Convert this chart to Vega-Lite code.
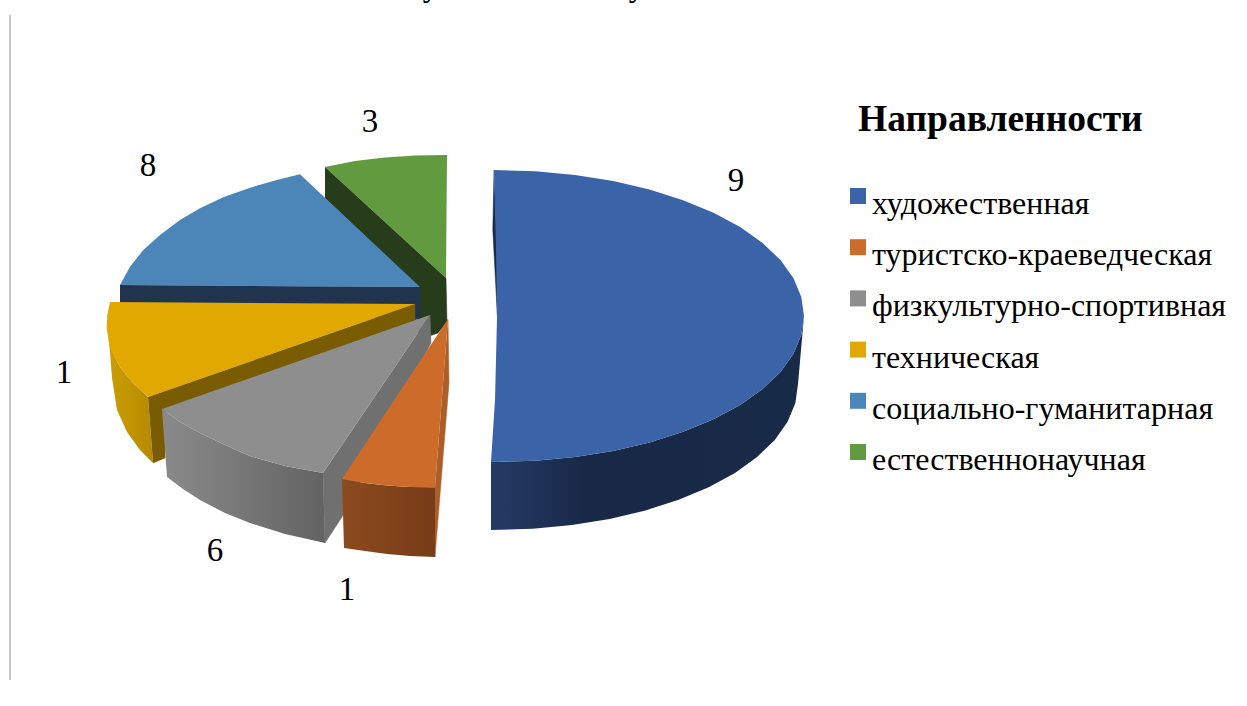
{"$schema":"https://vega.github.io/schema/vega-lite/v6.json","width":1247,"height":706,"padding":0,"autosize":{"type":"none"},"background":"white","config":{"view":{"stroke":null}},
"datasets":{"faces":[
{"face":"greenInner","seq":1,"x":325,"y":167},{"face":"greenInner","seq":2,"x":446,"y":278},{"face":"greenInner","seq":3,"x":447,"y":322},{"face":"greenInner","seq":4,"x":438,"y":333},{"face":"greenInner","seq":5,"x":418,"y":340},{"face":"greenInner","seq":6,"x":418,"y":287},{"face":"greenInner","seq":7,"x":325,"y":198},
{"face":"steelInner","seq":1,"x":120,"y":285},{"face":"steelInner","seq":2,"x":420,"y":287},{"face":"steelInner","seq":3,"x":420,"y":318},{"face":"steelInner","seq":4,"x":415,"y":320},{"face":"steelInner","seq":5,"x":120,"y":305},
{"face":"yellowOuter","seq":1,"x":107,"y":327},{"face":"yellowOuter","seq":2,"x":110,"y":347},{"face":"yellowOuter","seq":3,"x":120,"y":367},{"face":"yellowOuter","seq":4,"x":133,"y":383},{"face":"yellowOuter","seq":5,"x":148,"y":397},{"face":"yellowOuter","seq":6,"x":153,"y":463},{"face":"yellowOuter","seq":7,"x":140,"y":450},{"face":"yellowOuter","seq":8,"x":127,"y":432},{"face":"yellowOuter","seq":9,"x":117,"y":410},{"face":"yellowOuter","seq":10,"x":112,"y":378},{"face":"yellowOuter","seq":11,"x":110,"y":352},
{"face":"yellowInner","seq":1,"x":148,"y":397},{"face":"yellowInner","seq":2,"x":415,"y":304},{"face":"yellowInner","seq":3,"x":415,"y":323},{"face":"yellowInner","seq":4,"x":165,"y":412},{"face":"yellowInner","seq":5,"x":165,"y":458},{"face":"yellowInner","seq":6,"x":153,"y":463},
{"face":"grayInner","seq":1,"x":430,"y":315},{"face":"grayInner","seq":2,"x":431,"y":343},{"face":"grayInner","seq":3,"x":342,"y":517},{"face":"grayInner","seq":4,"x":325,"y":543},{"face":"grayInner","seq":5,"x":323,"y":473},
{"face":"grayOuter","seq":1,"x":162,"y":409},{"face":"grayOuter","seq":2,"x":180,"y":422},{"face":"grayOuter","seq":3,"x":200,"y":433},{"face":"grayOuter","seq":4,"x":225,"y":445},{"face":"grayOuter","seq":5,"x":250,"y":456},{"face":"grayOuter","seq":6,"x":285,"y":466},{"face":"grayOuter","seq":7,"x":323,"y":473},{"face":"grayOuter","seq":8,"x":325,"y":543},{"face":"grayOuter","seq":9,"x":285,"y":534},{"face":"grayOuter","seq":10,"x":250,"y":523},{"face":"grayOuter","seq":11,"x":225,"y":513},{"face":"grayOuter","seq":12,"x":200,"y":500},{"face":"grayOuter","seq":13,"x":183,"y":489},{"face":"grayOuter","seq":14,"x":167,"y":477},
{"face":"orangeInner","seq":1,"x":448,"y":319},{"face":"orangeInner","seq":2,"x":449,"y":383},{"face":"orangeInner","seq":3,"x":435,"y":557},{"face":"orangeInner","seq":4,"x":435,"y":487},
{"face":"orangeOuter","seq":1,"x":342,"y":479},{"face":"orangeOuter","seq":2,"x":365,"y":483},{"face":"orangeOuter","seq":3,"x":387,"y":485.5},{"face":"orangeOuter","seq":4,"x":410,"y":487},{"face":"orangeOuter","seq":5,"x":435,"y":487.3},{"face":"orangeOuter","seq":6,"x":435,"y":557},{"face":"orangeOuter","seq":7,"x":410,"y":556},{"face":"orangeOuter","seq":8,"x":387,"y":554},{"face":"orangeOuter","seq":9,"x":365,"y":551},{"face":"orangeOuter","seq":10,"x":344,"y":548},
{"face":"blueInner","seq":1,"x":494,"y":170},{"face":"blueInner","seq":2,"x":492.8,"y":230},{"face":"blueInner","seq":3,"x":497.5,"y":318},{"face":"blueInner","seq":4,"x":497,"y":250},
{"face":"blueOuter","seq":1,"x":804,"y":316},{"face":"blueOuter","seq":2,"x":801.3,"y":335.1},{"face":"blueOuter","seq":3,"x":793.5,"y":353.8},{"face":"blueOuter","seq":4,"x":780.5,"y":371.9},{"face":"blueOuter","seq":5,"x":762.6,"y":389},{"face":"blueOuter","seq":6,"x":740.2,"y":404.9},{"face":"blueOuter","seq":7,"x":713.5,"y":419.2},{"face":"blueOuter","seq":8,"x":683.1,"y":431.8},{"face":"blueOuter","seq":9,"x":649.5,"y":442.4},{"face":"blueOuter","seq":10,"x":613.3,"y":450.9},{"face":"blueOuter","seq":11,"x":575,"y":457.1},{"face":"blueOuter","seq":12,"x":535.3,"y":460.7},{"face":"blueOuter","seq":13,"x":491,"y":462},{"face":"blueOuter","seq":14,"x":491,"y":530},{"face":"blueOuter","seq":15,"x":532.8,"y":528.7},{"face":"blueOuter","seq":16,"x":572,"y":525},{"face":"blueOuter","seq":17,"x":609.7,"y":518.9},{"face":"blueOuter","seq":18,"x":645.5,"y":510.4},{"face":"blueOuter","seq":19,"x":678.7,"y":499.8},{"face":"blueOuter","seq":20,"x":708.7,"y":487.2},{"face":"blueOuter","seq":21,"x":735,"y":472.9},{"face":"blueOuter","seq":22,"x":757.1,"y":457},{"face":"blueOuter","seq":23,"x":774.8,"y":439.9},{"face":"blueOuter","seq":24,"x":787.6,"y":421.8},{"face":"blueOuter","seq":25,"x":795.4,"y":403.1},{"face":"blueOuter","seq":26,"x":798,"y":384}
],
"tops":[
{"cat":"художественная","seq":1,"x":494,"y":170},{"cat":"художественная","seq":2,"x":535.3,"y":171.3},{"cat":"художественная","seq":3,"x":575,"y":174.9},{"cat":"художественная","seq":4,"x":613.3,"y":181.1},{"cat":"художественная","seq":5,"x":649.5,"y":189.6},{"cat":"художественная","seq":6,"x":683.1,"y":200.2},{"cat":"художественная","seq":7,"x":713.5,"y":212.8},{"cat":"художественная","seq":8,"x":740.2,"y":227.1},{"cat":"художественная","seq":9,"x":762.6,"y":243},{"cat":"художественная","seq":10,"x":780.5,"y":260.1},{"cat":"художественная","seq":11,"x":793.5,"y":278.2},{"cat":"художественная","seq":12,"x":801.3,"y":296.9},{"cat":"художественная","seq":13,"x":804,"y":316},{"cat":"художественная","seq":14,"x":801.3,"y":335.1},{"cat":"художественная","seq":15,"x":793.5,"y":353.8},{"cat":"художественная","seq":16,"x":780.5,"y":371.9},{"cat":"художественная","seq":17,"x":762.6,"y":389},{"cat":"художественная","seq":18,"x":740.2,"y":404.9},{"cat":"художественная","seq":19,"x":713.5,"y":419.2},{"cat":"художественная","seq":20,"x":683.1,"y":431.8},{"cat":"художественная","seq":21,"x":649.5,"y":442.4},{"cat":"художественная","seq":22,"x":613.3,"y":450.9},{"cat":"художественная","seq":23,"x":575,"y":457.1},{"cat":"художественная","seq":24,"x":535.3,"y":460.7},{"cat":"художественная","seq":25,"x":491,"y":462},{"cat":"художественная","seq":26,"x":495,"y":400},{"cat":"художественная","seq":27,"x":497,"y":318},{"cat":"художественная","seq":28,"x":496,"y":250},
{"cat":"туристско-краеведческая","seq":1,"x":342,"y":479},{"cat":"туристско-краеведческая","seq":2,"x":365,"y":483},{"cat":"туристско-краеведческая","seq":3,"x":387,"y":485.5},{"cat":"туристско-краеведческая","seq":4,"x":410,"y":487},{"cat":"туристско-краеведческая","seq":5,"x":435,"y":487.3},{"cat":"туристско-краеведческая","seq":6,"x":448,"y":319},
{"cat":"физкультурно-спортивная","seq":1,"x":162,"y":409},{"cat":"физкультурно-спортивная","seq":2,"x":180,"y":422},{"cat":"физкультурно-спортивная","seq":3,"x":200,"y":433},{"cat":"физкультурно-спортивная","seq":4,"x":225,"y":445},{"cat":"физкультурно-спортивная","seq":5,"x":250,"y":456},{"cat":"физкультурно-спортивная","seq":6,"x":285,"y":466},{"cat":"физкультурно-спортивная","seq":7,"x":323,"y":473},{"cat":"физкультурно-спортивная","seq":8,"x":430,"y":315},
{"cat":"техническая","seq":1,"x":110,"y":302},{"cat":"техническая","seq":2,"x":107.3,"y":315},{"cat":"техническая","seq":3,"x":106.7,"y":328},{"cat":"техническая","seq":4,"x":110,"y":348},{"cat":"техническая","seq":5,"x":120,"y":367},{"cat":"техническая","seq":6,"x":133,"y":383},{"cat":"техническая","seq":7,"x":148,"y":397},{"cat":"техническая","seq":8,"x":415,"y":304},
{"cat":"социально-гуманитарная","seq":1,"x":300,"y":174.3},{"cat":"социально-гуманитарная","seq":2,"x":276.7,"y":180},{"cat":"социально-гуманитарная","seq":3,"x":250,"y":187.7},{"cat":"социально-гуманитарная","seq":4,"x":223.3,"y":197.3},{"cat":"социально-гуманитарная","seq":5,"x":200,"y":208.3},{"cat":"социально-гуманитарная","seq":6,"x":180,"y":220},{"cat":"социально-гуманитарная","seq":7,"x":160,"y":235},{"cat":"социально-гуманитарная","seq":8,"x":143.3,"y":250},{"cat":"социально-гуманитарная","seq":9,"x":130,"y":266.7},{"cat":"социально-гуманитарная","seq":10,"x":120,"y":285},{"cat":"социально-гуманитарная","seq":11,"x":420,"y":287},
{"cat":"естественнонаучная","seq":1,"x":325,"y":167},{"cat":"естественнонаучная","seq":2,"x":355,"y":161},{"cat":"естественнонаучная","seq":3,"x":385,"y":157.5},{"cat":"естественнонаучная","seq":4,"x":415,"y":155.5},{"cat":"естественнонаучная","seq":5,"x":447,"y":155},{"cat":"естественнонаучная","seq":6,"x":446,"y":278}
],
"labels":[{"t":"9","x":736,"y":191},{"t":"3","x":370,"y":132},{"t":"8","x":148,"y":176},{"t":"1","x":64,"y":383},{"t":"6","x":215,"y":561},{"t":"1","x":347,"y":600},{"t":"у","x":431,"y":-4},{"t":"у","x":637,"y":-4}],
"frame":[{"x":10,"y":15},{"x":10,"y":680}]},
"encoding":{"x":{"field":"x","type":"quantitative","scale":{"domain":[0,1247],"nice":false,"zero":false},"axis":null},"y":{"field":"y","type":"quantitative","scale":{"domain":[706,0],"nice":false,"zero":false},"axis":null}},
"layer":[
{"data":{"name":"frame"},"mark":{"type":"line","stroke":"#b4b4b4","strokeWidth":1.5,"clip":false},"encoding":{"x":{"field":"x","type":"quantitative"},"y":{"field":"y","type":"quantitative"}}},
{"data":{"name":"faces"},"transform":[{"filter":"datum.face=='greenInner'"}],"mark":{"type":"line","fill":"#263c1a","stroke":"#263c1a","strokeWidth":0.5},"encoding":{"order":{"field":"seq","type":"quantitative"}}},
{"data":{"name":"faces"},"transform":[{"filter":"datum.face=='steelInner'"}],"mark":{"type":"line","fill":"#20354d","stroke":"#20354d","strokeWidth":0.5},"encoding":{"order":{"field":"seq","type":"quantitative"}}},
{"data":{"name":"faces"},"transform":[{"filter":"datum.face=='yellowOuter'"}],"mark":{"type":"line","stroke":null,"fill":{"gradient":"linear","x1":0,"x2":1,"y1":0,"y2":0,"stops":[{"offset":0,"color":"#cc9e05"},{"offset":1,"color":"#b58a00"}]}},"encoding":{"order":{"field":"seq","type":"quantitative"}}},
{"data":{"name":"faces"},"transform":[{"filter":"datum.face=='yellowInner'"}],"mark":{"type":"line","fill":"#7a5c00","stroke":"#7a5c00","strokeWidth":0.5},"encoding":{"order":{"field":"seq","type":"quantitative"}}},
{"data":{"name":"faces"},"transform":[{"filter":"datum.face=='grayInner'"}],"mark":{"type":"line","fill":"#707070","stroke":"#707070","strokeWidth":0.5},"encoding":{"order":{"field":"seq","type":"quantitative"}}},
{"data":{"name":"faces"},"transform":[{"filter":"datum.face=='grayOuter'"}],"mark":{"type":"line","stroke":null,"fill":{"gradient":"linear","x1":0,"x2":1,"y1":0,"y2":0,"stops":[{"offset":0,"color":"#8a8a8a"},{"offset":1,"color":"#636363"}]}},"encoding":{"order":{"field":"seq","type":"quantitative"}}},
{"data":{"name":"faces"},"transform":[{"filter":"datum.face=='orangeInner'"}],"mark":{"type":"line","fill":"#ad5e28","stroke":"#ad5e28","strokeWidth":0.5},"encoding":{"order":{"field":"seq","type":"quantitative"}}},
{"data":{"name":"faces"},"transform":[{"filter":"datum.face=='orangeOuter'"}],"mark":{"type":"line","stroke":null,"fill":{"gradient":"linear","x1":0,"x2":1,"y1":0,"y2":0,"stops":[{"offset":0,"color":"#8c4a1e"},{"offset":1,"color":"#773c18"}]}},"encoding":{"order":{"field":"seq","type":"quantitative"}}},
{"data":{"name":"faces"},"transform":[{"filter":"datum.face=='blueInner'"}],"mark":{"type":"line","fill":"#172a48","stroke":"#172a48","strokeWidth":0.5},"encoding":{"order":{"field":"seq","type":"quantitative"}}},
{"data":{"name":"faces"},"transform":[{"filter":"datum.face=='blueOuter'"}],"mark":{"type":"line","stroke":null,"fill":{"gradient":"linear","x1":0,"x2":1,"y1":0,"y2":0,"stops":[{"offset":0,"color":"#263a66"},{"offset":0.3,"color":"#182947"},{"offset":1,"color":"#172a48"}]}},"encoding":{"order":{"field":"seq","type":"quantitative"}}},
{"data":{"name":"tops"},"mark":{"type":"line","stroke":null,"strokeWidth":0},"encoding":{"order":{"field":"seq","type":"quantitative"},"fill":{"field":"cat","type":"nominal","scale":{"domain":["художественная","туристско-краеведческая","физкультурно-спортивная","техническая","социально-гуманитарная","естественнонаучная"],"range":["#3a63a8","#cd6c2a","#8e8e8e","#e0a800","#4c86b9","#629a3f"]},"legend":{"title":"Направленности","orient":"none","legendX":858,"legendY":101,"titleFont":"Liberation Serif","titleFontSize":37.5,"titleFontWeight":"bold","titleColor":"#000000","titlePadding":34.5,"titleLimit":400,"labelFont":"Liberation Serif","labelFontSize":32,"labelColor":"#000000","labelLimit":400,"labelBaseline":"top","labelOffset":-2,"symbolOffset":-16,"rowPadding":4.2,"symbolType":"M-1,-0.125H1V1.875H-1Z","symbolSize":256,"symbolStrokeWidth":0,"padding":0}}}},
{"data":{"name":"labels"},"mark":{"type":"text","font":"Liberation Serif","fontSize":33,"color":"#000000","align":"center","baseline":"alphabetic","clip":false},"encoding":{"text":{"field":"t","type":"nominal"}}}
]}
